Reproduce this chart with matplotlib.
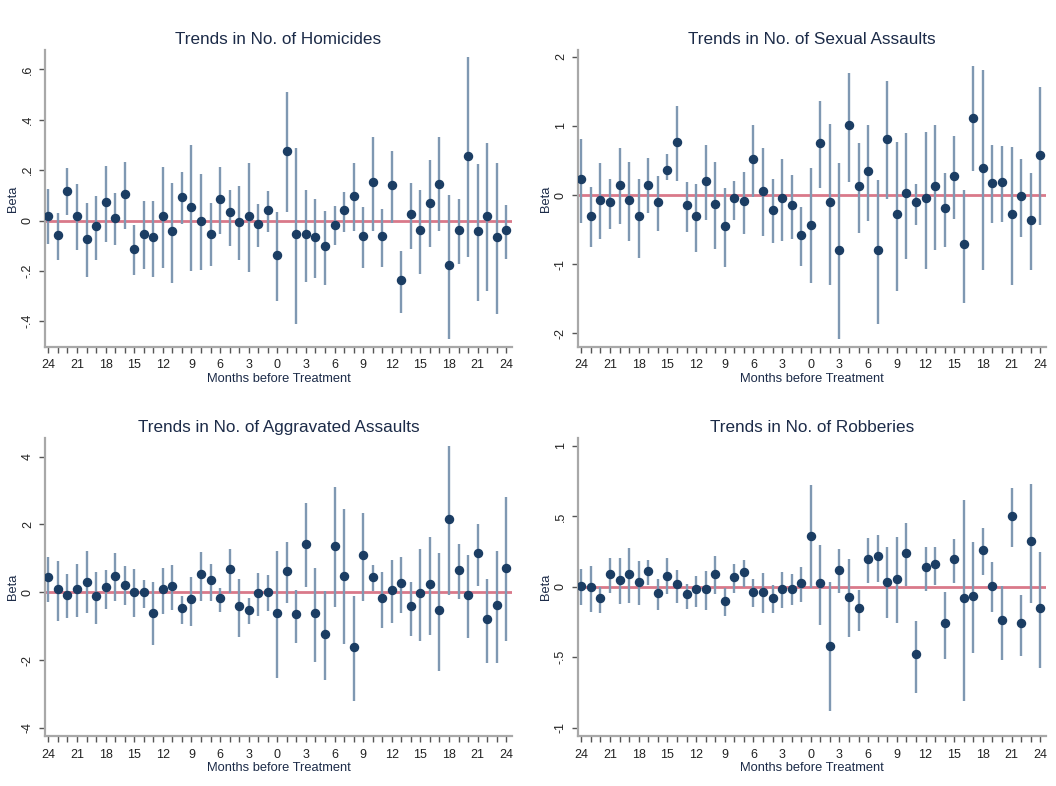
import matplotlib
matplotlib.use("Agg")
import matplotlib.pyplot as plt
from matplotlib.ticker import MultipleLocator

plt.rcParams['font.family'] = ['Liberation Sans', 'DejaVu Sans']

months = list(range(-24, 25))

# homicides
hom_b = [0.019, -0.058, 0.118, 0.019, -0.072, -0.023, 0.072, 0.011, 0.107, -0.113,
         -0.053, -0.066, 0.019, -0.041, 0.095, 0.053, 0.0, -0.053, 0.087, 0.034,
         -0.005, 0.019, -0.013, 0.041, -0.135, 0.277, -0.053, -0.053, -0.065, -0.1,
         -0.019, 0.041, 0.099, -0.06, 0.154, -0.06, 0.142, -0.237, 0.024, -0.036,
         0.07, 0.147, -0.177, -0.036, 0.258, -0.041, 0.019, -0.065, -0.036]
hom_hi = [0.125, 0.03, 0.207, 0.144, 0.07, 0.098, 0.217, 0.11, 0.233, -0.016,
          0.077, 0.078, 0.212, 0.15, 0.193, 0.299, 0.183, 0.068, 0.213, 0.123,
          0.136, 0.229, 0.065, 0.117, 0.032, 0.509, 0.286, 0.121, 0.086, 0.038,
          0.057, 0.114, 0.229, 0.052, 0.33, 0.046, 0.277, -0.122, 0.15, 0.122,
          0.24, 0.33, 0.1, 0.086, 0.648, 0.226, 0.306, 0.229, 0.062]
hom_lo = [-0.095, -0.158, 0.021, -0.118, -0.224, -0.155, -0.086, -0.098, -0.033, -0.217,
          -0.192, -0.224, -0.188, -0.246, -0.012, -0.2, -0.197, -0.18, -0.052, -0.1,
          -0.155, -0.204, -0.105, -0.044, -0.32, 0.032, -0.412, -0.242, -0.228, -0.257,
          -0.099, -0.046, -0.04, -0.188, -0.042, -0.183, -0.009, -0.367, -0.114, -0.211,
          -0.107, -0.042, -0.472, -0.171, -0.144, -0.319, -0.281, -0.37, -0.152]

# sexual assaults
sex_b = [0.237, -0.3, -0.068, -0.107, 0.15, -0.068, -0.3, 0.15, -0.107, 0.368,
         0.775, -0.15, -0.3, 0.199, -0.131, -0.45, -0.039, -0.082, 0.518, 0.063,
         -0.218, -0.039, -0.15, -0.58, -0.43, 0.75, -0.107, -0.8, 1.012, 0.131,
         0.349, -0.8, 0.818, -0.281, 0.024, -0.107, -0.039, 0.131, -0.194, 0.281,
         -0.712, 1.119, 0.392, 0.174, 0.194, -0.281, -0.019, -0.368, 0.581]
sex_hi = [0.814, 0.121, 0.46, 0.237, 0.688, 0.479, 0.237, 0.533, 0.276, 0.6,
          1.288, 0.194, 0.165, 0.72, 0.479, 0.097, 0.208, 0.329, 1.02, 0.688,
          0.232, 0.528, 0.295, -0.17, 0.387, 1.356, 1.027, 0.47, 1.768, 0.76,
          1.007, 0.218, 1.651, 0.77, 0.9, 0.155, 0.92, 1.012, 0.315, 0.857,
          0.073, 1.864, 1.816, 0.726, 0.712, 0.692, 0.528, 0.324, 1.56]
sex_lo = [-0.41, -0.755, -0.64, -0.494, -0.42, -0.659, -0.906, -0.26, -0.523, 0.218,
          0.199, -0.542, -0.818, -0.363, -0.78, -1.04, -0.363, -0.567, -0.034, -0.6,
          -0.7, -0.659, -0.63, -1.03, -1.27, 0.107, -1.307, -2.09, 0.194, -0.552,
          -0.378, -1.86, -0.058, -1.395, -0.925, -0.431, -1.065, -0.789, -0.75, -0.344,
          -1.564, 0.349, -1.09, -0.41, -0.387, -1.307, -0.605, -1.09, -0.436]

# aggravated assaults
agg_b = [0.45, 0.10, -0.07, 0.09, 0.31, -0.11, 0.15, 0.49, 0.22, 0.0,
         0.0, -0.61, 0.09, 0.19, -0.47, -0.21, 0.54, 0.35, -0.16, 0.68,
         -0.42, -0.52, -0.03, 0.01, -0.60, 0.63, -0.64, 1.42, -0.60, -1.22,
         1.37, 0.49, -1.61, 1.10, 0.45, -0.16, 0.06, 0.28, -0.42, -0.03,
         0.24, -0.51, 2.17, 0.67, -0.07, 1.16, -0.78, -0.37, 0.71]
agg_hi = [1.05, 0.92, 0.53, 0.82, 1.23, 0.61, 0.67, 1.15, 0.76, 0.69,
          0.36, 0.31, 0.73, 0.80, -0.10, 0.46, 1.18, 0.83, 0.13, 1.28,
          0.39, -0.18, 0.56, 0.51, 1.22, 1.49, 0.07, 2.62, 0.73, 0.03,
          3.10, 2.45, -0.11, 2.35, 0.79, 0.59, 0.95, 1.05, 0.31, 1.27,
          1.62, 1.17, 4.32, 1.43, 1.09, 2.01, 0.39, 1.22, 2.82]
agg_lo = [-0.28, -0.84, -0.77, -0.72, -0.62, -0.94, -0.48, -0.25, -0.37, -0.72,
          -0.47, -1.56, -0.64, -0.52, -0.94, -0.99, -0.25, -0.25, -0.58, -0.02,
          -1.31, -0.94, -0.70, -0.54, -2.54, -0.32, -1.51, 0.15, -2.05, -2.59,
          -0.44, -1.54, -3.20, -0.25, 0.03, -1.05, -0.92, -0.62, -1.29, -1.43,
          -1.26, -2.31, -0.07, -0.19, -1.35, 0.19, -2.10, -2.10, -1.45]

# robberies
rob_b = [0.007, 0.0, -0.078, 0.092, 0.047, 0.092, 0.038, 0.114, -0.045, 0.080,
         0.019, -0.054, -0.017, -0.017, 0.092, -0.099, 0.071, 0.104, -0.036, -0.036,
         -0.078, -0.017, -0.017, 0.026, 0.364, 0.026, -0.417, 0.121, -0.069, -0.151,
         0.196, 0.22, 0.038, 0.059, 0.239, -0.478, 0.144, 0.163, -0.258, 0.196,
         -0.078, -0.066, 0.26, 0.007, -0.237, 0.504, -0.258, 0.322, -0.151]
rob_hi = [0.13, 0.149, 0.002, 0.204, 0.204, 0.275, 0.18, 0.192, 0.057, 0.204,
          0.121, 0.021, 0.08, 0.111, 0.22, -0.009, 0.159, 0.192, 0.054, 0.097,
          0.012, 0.107, 0.092, 0.14, 0.724, 0.298, 0.033, 0.27, 0.196, -0.019,
          0.346, 0.369, 0.286, 0.357, 0.454, -0.241, 0.286, 0.286, -0.04, 0.341,
          0.618, 0.32, 0.421, 0.175, 0.009, 0.70, -0.057, 0.731, 0.244]
rob_lo = [-0.128, -0.175, -0.182, -0.045, -0.121, -0.111, -0.128, 0.014, -0.163, -0.05,
          -0.116, -0.156, -0.14, -0.163, -0.052, -0.206, -0.045, -0.002, -0.14, -0.187,
          -0.182, -0.151, -0.13, -0.104, -0.009, -0.272, -0.878, -0.045, -0.357, -0.312,
          0.026, 0.038, -0.222, -0.253, 0.007, -0.75, -0.026, 0.012, -0.511, 0.026,
          -0.807, -0.471, 0.083, -0.175, -0.518, 0.282, -0.488, -0.116, -0.573]

panels = [
    ("Trends in No. of Homicides", hom_b, hom_lo, hom_hi,
     [0.6, 0.4, 0.2, 0, -0.2, -0.4], [".6", ".4", ".2", "0", "-.2", "-.4"], (-0.502, 0.677)),
    ("Trends in No. of Sexual Assaults", sex_b, sex_lo, sex_hi,
     [2, 1, 0, -1, -2], ["2", "1", "0", "-1", "-2"], (-2.2, 2.1)),
    ("Trends in No. of Aggravated Assaults", agg_b, agg_lo, agg_hi,
     [4, 2, 0, -2, -4], ["4", "2", "0", "-2", "-4"], (-4.24, 4.55)),
    ("Trends in No. of Robberies", rob_b, rob_lo, rob_hi,
     [1, 0.5, 0, -0.5, -1], ["1", ".5", "0", "-.5", "-1"], (-1.058, 1.056)),
]

W, H = 1056, 786
boxes = [(45, 50, 512, 347), (578, 50, 1046, 347),
         (45, 438, 512, 736), (578, 438, 1046, 736)]

fig = plt.figure(figsize=(W / 100, H / 100), dpi=100)

navy = "#1b3d63"
bar_col = "#7f98b2"
axis_col = "#a8a8a8"
text_col = "#1c2b48"

for (title, b, lo, hi, yt, ytl, ylim), (l, t, r, bt) in zip(panels, boxes):
    ax = fig.add_axes([l / W, 1 - bt / H, (r - l) / W, (bt - t) / H])
    ax.axhline(0, color="#d9798a", lw=2, zorder=1)
    ax.vlines(months, lo, hi, color=bar_col, lw=1.7, zorder=2)
    ax.plot(months, b, "o", color=navy, ms=5.8, zorder=3)
    ax.set_xlim(-24.35, 24.6)
    ax.set_ylim(*ylim)
    for s in ["top", "right"]:
        ax.spines[s].set_visible(False)
    for s in ["left", "bottom"]:
        ax.spines[s].set_color(axis_col)
        ax.spines[s].set_linewidth(1.6)
    xt = list(range(-24, 25, 3))
    ax.set_xticks(xt)
    ax.set_xticklabels([str(abs(v)) for v in xt])
    ax.xaxis.set_minor_locator(MultipleLocator(1))
    ax.tick_params(axis="x", which="both", length=4, width=1, color="#555555",
                   labelsize=9, labelcolor="#222222", pad=5)
    ax.set_yticks(yt)
    ax.set_yticklabels(ytl, rotation=90, va="center")
    ax.tick_params(axis="y", length=4, width=1, color="#555555",
                   labelsize=9, labelcolor="#222222", pad=4)
    ax.set_title(title, fontsize=12.3, color=text_col, pad=4)
    ax.set_xlabel("Months before Treatment", fontsize=9.3, color=text_col, labelpad=1)
    ax.set_ylabel("Beta", fontsize=9.3, color=text_col, labelpad=2)

fig.savefig("out.png", dpi=100, facecolor="white")
